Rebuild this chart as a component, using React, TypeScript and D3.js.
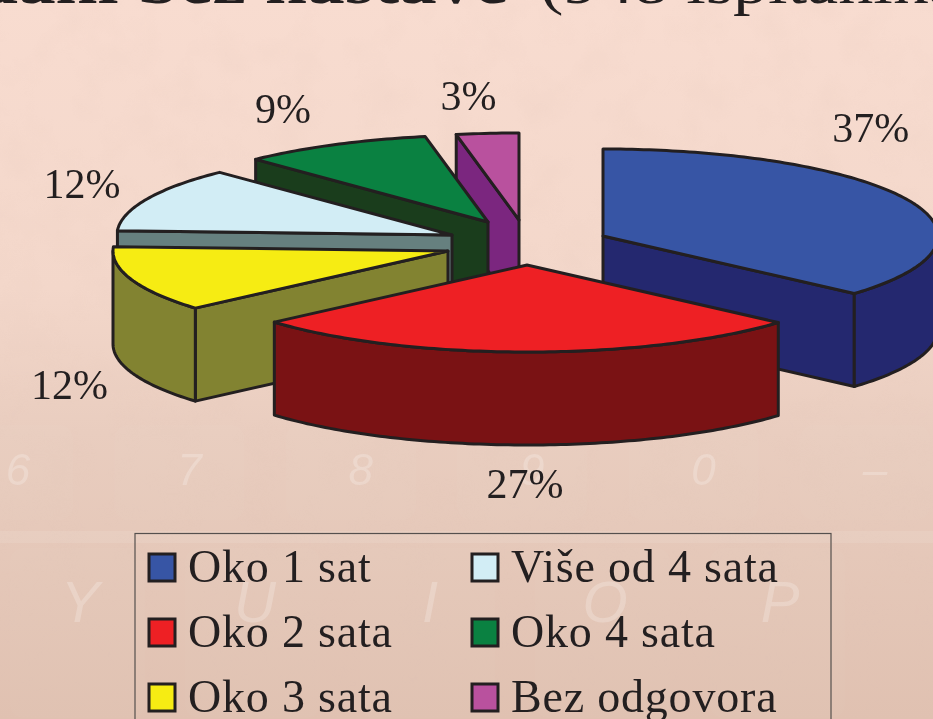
import React from "react";
import * as d3 from "d3";

// ---- data ----
const categories = ["Oko 1 sat", "Oko 2 sata", "Oko 3 sata", "Više od 4 sata", "Oko 4 sata", "Bez odgovora"];
const shares = [36.5, 27.1, 12.2, 12.0, 9.2, 3.0];
const topColors = ["#3755a5", "#ee2024", "#f6ec13", "#d2edf5", "#0a8141", "#b9519e"];
const sideColors = ["#24286f", "#7a1214", "#828331", "#66807f", "#1a3d1c", "#7b267f"];
const legendOrder = [0, 1, 2, 3, 4, 5];
const ghostDigits = ["6", "7", "8", "9", "0", "–"];
const ghostLetters = ["Y", "U", "I", "O", "P"];

// ---- layout ----
const W = 933, H = 719;
const RX = 335, RY = 87, DEPTH = 93;
const INK = "#231f20";
const FONT = "'Liberation Serif', serif";
const sliceCentres: [number, number][] = [[603, 236], [527, 265], [448, 251], [452, 235], [488, 222], [519, 220]];
const labelNudges: [number, number][] = [[-37.5, -58], [-1, 146], [-62, 120], [-65, -1], [-51, -22], [-19, -23]];
const paintOrder = [5, 4, 3, 0, 2, 1];

const pie = d3.pie<number>().sort(null).value((d) => d);
const arcs = pie(shares);

const line = d3.line<[number, number]>().curve(d3.curveLinear);
const project = (i: number, a: number, drop = 0): [number, number] => [
  sliceCentres[i][0] + RX * Math.sin(a),
  sliceCentres[i][1] - RY * Math.cos(a) + drop,
];
const sweep = (i: number, a0: number, a1: number, drop = 0): [number, number][] => {
  const n = Math.max(2, Math.ceil(((a1 - a0) * 180) / Math.PI));
  return d3.range(n + 1).map((k) => project(i, a0 + ((a1 - a0) * k) / n, drop));
};

function Slice({ i }: { i: number }) {
  const { startAngle: a0, endAngle: a1 } = arcs[i];
  const c = sliceCentres[i];
  const faces: string[] = [];
  const cut = (a: number) => {
    const p = project(i, a);
    return line([c, p, [p[0], p[1] + DEPTH], [c[0], c[1] + DEPTH], c]) + "Z";
  };
  if (Math.sin(a0) < 0) faces.push(cut(a0));
  if (Math.sin(a1) > 0 && a1 < Math.PI) faces.push(cut(a1));
  const s0 = Math.max(a0, Math.PI / 2), s1 = Math.min(a1, (3 * Math.PI) / 2);
  if (s1 > s0) {
    faces.push(line([...sweep(i, s0, s1), ...sweep(i, s0, s1, DEPTH).reverse()]) + "Z");
  }
  const top = line([c, ...sweep(i, a0, a1)]) + "Z";
  return (
    <g stroke={INK} strokeWidth={3} strokeLinejoin="round">
      {faces.map((d, k) => <path key={k} d={d} fill={sideColors[i]} />)}
      <path d={top} fill={topColors[i]} />
    </g>
  );
}

export default function App() {
  const rowY = d3.scalePoint<number>().domain([0, 1, 2]).range([582, 712]);
  const colX = d3.scalePoint<number>().domain([0, 1]).range([148, 471]);
  const digitX = d3.scalePoint<number>().domain(d3.range(6)).range([18, 875]);
  const letterX = d3.scalePoint<number>().domain(d3.range(5)).range([80, 780]);
  return (
    <svg width={W} height={H} viewBox={`0 0 ${W} ${H}`} style={{ position: "fixed", left: 0, top: 0 }}>
      <defs>
        <linearGradient id="bg" x1="0" y1="0" x2="0" y2="1">
          <stop offset="0" stopColor="#f8dcd0" />
          <stop offset="0.4" stopColor="#f3d7ca" />
          <stop offset="0.6" stopColor="#e9cdbf" />
          <stop offset="1" stopColor="#e0c1b1" />
        </linearGradient>
        <filter id="mottle" x="0" y="0" width="100%" height="100%">
          <feTurbulence type="fractalNoise" baseFrequency="0.025" numOctaves={3} seed={4} />
          <feColorMatrix values="0 0 0 0 0.75  0 0 0 0 0.55  0 0 0 0 0.47  0 0 0 1.1 -0.45" />
        </filter>
      </defs>
      <rect width={W} height={H} fill="url(#bg)" />
      <rect width={W} height={H} filter="url(#mottle)" opacity={0.22} />

      {/* faint keyboard in the backdrop */}
      <g fill="#fff" opacity={0.1}>
        <rect x={0} y={531} width={W} height={12} />
        {d3.range(6).map((k) => (
          <rect key={k} x={(digitX(k) as number) - 75} y={425} width={130} height={95} rx={14} opacity={0.3} />
        ))}
        {d3.range(5).map((k) => (
          <rect key={k} x={(letterX(k) as number) - 70} y={548} width={135} height={170} rx={14} opacity={0.25} />
        ))}
      </g>
      <g fontFamily="'Liberation Sans', sans-serif" fill="#fff" opacity={0.22} fontStyle="italic">
        {ghostDigits.map((t, k) => (
          <text key={k} x={digitX(k)} y={485} textAnchor="middle" fontSize={44}>{t}</text>
        ))}
        {ghostLetters.map((t, k) => (
          <text key={k} x={letterX(k)} y={622} textAnchor="middle" fontSize={58}>{t}</text>
        ))}
      </g>

      {/* title, cut by the top of the page */}
      <text transform="translate(-24,3) scale(1.216,1)" fontFamily={FONT} fontSize={62} fill={INK} fontWeight="bold">dani bez nastave</text>
      <text transform="translate(540,3) scale(1.17,1)" fontFamily={FONT} fontSize={60} fill={INK}>(948 ispitanika)</text>

      {paintOrder.map((i) => <Slice key={i} i={i} />)}

      <g fontFamily={FONT} fontSize={42} fill={INK} textAnchor="middle">
        {arcs.map((a, i) => {
          const [x, y] = project(i, (a.startAngle + a.endAngle) / 2);
          return (
            <text key={i} x={x + labelNudges[i][0]} y={y + labelNudges[i][1]}>
              {Math.round(a.value)}%
            </text>
          );
        })}
      </g>

      <rect x={135} y={533.5} width={696} height={240} fill="none" stroke="#55504e" strokeWidth={1.2} />
      <g fontFamily={FONT} fontSize={46} fill={INK}>
        {legendOrder.map((i) => {
          const col = Math.floor(i / 3), row = i % 3;
          const x = colX(col) as number, y = rowY(row) as number;
          return (
            <g key={i}>
              <rect x={x + 1} y={y - 28} width={26} height={27} fill={topColors[i]} stroke={INK} strokeWidth={3} />
              <text x={x + 40} y={y} letterSpacing={0.8}>{categories[i]}</text>
            </g>
          );
        })}
      </g>
    </svg>
  );
}
